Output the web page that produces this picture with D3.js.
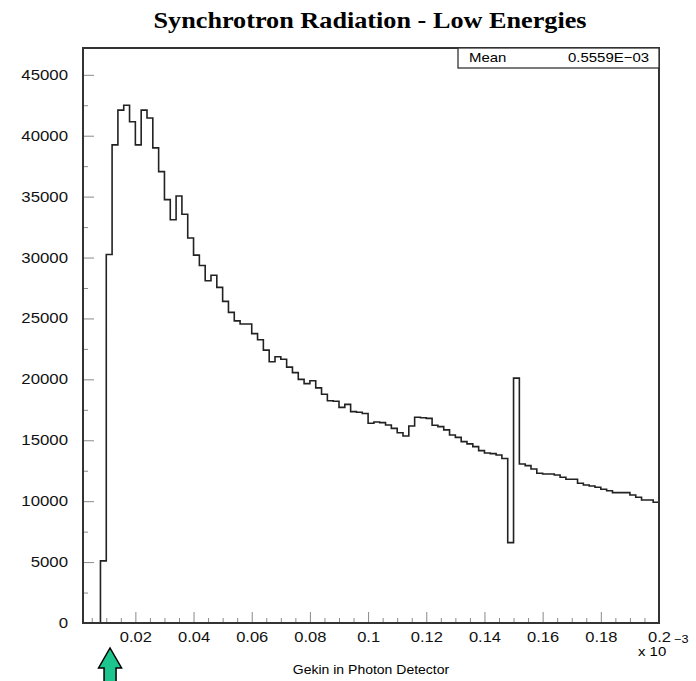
<!DOCTYPE html>
<html>
<head>
<meta charset="utf-8">
<script src="https://cdn.jsdelivr.net/npm/d3@7"></script>
<style>
  body { margin: 0; background: #fff; }
  svg { display: block; }
  .axis text { font-family: "Liberation Sans", Arial, sans-serif; font-size: 14px; fill: #111; }
  .axis line { stroke: #8a8a8a; }
  .axis path { display: none; }
</style>
</head>
<body>
<div id="chart"></div>
<script>
// histogram: Gekin in Photon Detector (x 10^-3), bins of 0.002 starting at 0.008
const binStart = 0.008;
const binWidth = 0.002;
const counts = [
  5100, 30250, 39250, 42100, 42500, 41150, 39250, 42100, 41450, 39000,
  37050, 34750, 33100, 35050, 33550, 31600, 30200, 29350, 28100, 28550,
  27550, 26400, 25500, 24800, 24550, 24550, 23750, 23250, 22400, 21450,
  21850, 21650, 21000, 20550, 20000, 19650, 19880, 19300, 18780, 18250,
  18200, 17700, 17950, 17350, 17300, 17200, 16400, 16500, 16450, 16250,
  15980, 15620, 15350, 16170, 16890, 16850, 16800, 16230, 16120, 15850,
  15430, 15240, 14890, 14700, 14480, 14150, 13950, 13900, 13790, 13500,
  6600, 20100, 13050, 12920, 12640, 12290, 12230, 12230, 12150, 11960,
  11800, 11800, 11470, 11330, 11250, 11140, 10980, 10860, 10700, 10700,
  10700, 10510, 10320, 10100, 10100, 9910
];
const xDomain = [0.002, 0.2];
const yDomain = [0, 47200];
const xTicks = [0.02, 0.04, 0.06, 0.08, 0.1, 0.12, 0.14, 0.16, 0.18, 0.2];
const xTickLabels = ["0.02", "0.04", "0.06", "0.08", "0.1", "0.12", "0.14", "0.16", "0.18", "0.2"];
const xMinorTicks = [0.005, 0.01, 0.015, 0.025, 0.03, 0.035, 0.045, 0.05, 0.055, 0.065, 0.07, 0.075,
  0.085, 0.09, 0.095, 0.105, 0.11, 0.115, 0.125, 0.13, 0.135, 0.145, 0.15, 0.155,
  0.165, 0.17, 0.175, 0.185, 0.19, 0.195];
const yTicks = [0, 5000, 10000, 15000, 20000, 25000, 30000, 35000, 40000, 45000];
const yTickLabels = ["0", "5000", "10000", "15000", "20000", "25000", "30000", "35000", "40000", "45000"];
const yMinorTicks = [2500, 7500, 12500, 17500, 22500, 27500, 32500, 37500, 42500];
const title = "Synchrotron Radiation - Low Energies";
const xTitle = "Gekin in Photon Detector";
const statLabel = "Mean";
const statValue = "0.5559E\u221203";
const arrowAt = 0.0113;

const W = 696, H = 681;
const margin = {top: 48, right: 37, bottom: 58, left: 83};
const width = W - margin.left - margin.right;
const height = H - margin.top - margin.bottom;

const svg = d3.select("#chart").append("svg")
    .attr("width", W)
    .attr("height", H);

const g = svg.append("g")
    .attr("transform", `translate(${margin.left},${margin.top})`);

const x = d3.scaleLinear().domain(xDomain).range([0, width]);
const y = d3.scaleLinear().domain(yDomain).range([height, 0]);

// minor ticks
g.append("g").attr("class", "axis")
    .attr("transform", `translate(0,${height})`)
    .call(d3.axisBottom(x).tickValues(xMinorTicks).tickSize(-5).tickFormat(""));
g.append("g").attr("class", "axis")
    .call(d3.axisLeft(y).tickValues(yMinorTicks).tickSize(-5).tickFormat(""));

// major ticks + labels
const xAxis = g.append("g").attr("class", "axis")
    .attr("transform", `translate(0,${height})`)
    .call(d3.axisBottom(x).tickValues(xTicks).tickSize(-11).tickPadding(9)
        .tickFormat((d, i) => xTickLabels[i]));
xAxis.selectAll("text").attr("transform", "scale(1.18,1)");

const yAxis = g.append("g").attr("class", "axis")
    .call(d3.axisLeft(y).tickValues(yTicks).tickSize(-11).tickPadding(12.5)
        .tickFormat((d, i) => yTickLabels[i]));
yAxis.selectAll("text").attr("transform", "scale(1.2,1)");

// histogram outline
const pts = [{x: binStart, v: 0}]
    .concat(counts.map((c, i) => ({x: binStart + i * binWidth, v: c})))
    .concat([{x: binStart + counts.length * binWidth, v: counts[counts.length - 1]}]);

const line = d3.line()
    .x(d => x(d.x))
    .y(d => y(d.v))
    .curve(d3.curveStepAfter);

g.append("path")
    .datum(pts)
    .attr("fill", "none")
    .attr("stroke", "#222")
    .attr("stroke-width", 1.6)
    .attr("d", line);

// frame
g.append("rect")
    .attr("width", width)
    .attr("height", height)
    .attr("fill", "none")
    .attr("stroke", "#333")
    .attr("stroke-width", 2);

// stats box
const box = g.append("g").attr("transform", `translate(${width - 201},0)`);
box.append("rect")
    .attr("width", 201).attr("height", 20)
    .attr("fill", "#fff").attr("stroke", "#333").attr("stroke-width", 1.3);
box.append("text")
    .attr("transform", "translate(11,14) scale(1.15,1)")
    .style("font-family", "Liberation Sans, Arial, sans-serif")
    .style("font-size", "13px")
    .text(statLabel);
box.append("text")
    .attr("transform", "translate(191,14) scale(1.15,1)")
    .attr("text-anchor", "end")
    .style("font-family", "Liberation Sans, Arial, sans-serif")
    .style("font-size", "13px")
    .text(statValue);

// title
svg.append("text")
    .attr("transform", "translate(370,28) scale(1.14,1)")
    .attr("text-anchor", "middle")
    .style("font-family", "Liberation Serif, Times New Roman, serif")
    .style("font-weight", "bold")
    .style("font-size", "23px")
    .text(title);

// x title and exponent
svg.append("text")
    .attr("transform", `translate(371,674) scale(1.12,1)`)
    .attr("text-anchor", "middle")
    .style("font-family", "Liberation Sans, Arial, sans-serif")
    .style("font-size", "12.5px")
    .text(xTitle);

svg.append("text")
    .attr("transform", `translate(638,656) scale(1.15,1)`)
    .style("font-family", "Liberation Sans, Arial, sans-serif")
    .style("font-size", "13px")
    .text("x 10");
svg.append("text")
    .attr("transform", `translate(674,643) scale(1.15,1)`)
    .style("font-family", "Liberation Sans, Arial, sans-serif")
    .style("font-size", "11px")
    .text("\u22123");

// green arrow under the axis
const ax = margin.left + x(arrowAt);
const arrow = d3.path();
arrow.moveTo(ax, 648);
arrow.lineTo(ax + 11.5, 668);
arrow.lineTo(ax + 6, 668);
arrow.lineTo(ax + 6, 684);
arrow.lineTo(ax - 6, 684);
arrow.lineTo(ax - 6, 668);
arrow.lineTo(ax - 11.5, 668);
arrow.closePath();
svg.append("path")
    .attr("d", arrow.toString())
    .attr("fill", "#1cc48e")
    .attr("stroke", "#000")
    .attr("stroke-width", 1.5);
</script>
</body>
</html>
